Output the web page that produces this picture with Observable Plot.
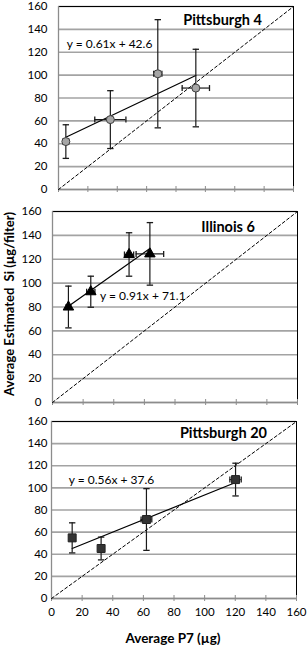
<!DOCTYPE html>
<html><head><meta charset="utf-8">
<script src="https://cdn.jsdelivr.net/npm/d3@7"></script>
<script src="https://cdn.jsdelivr.net/npm/@observablehq/plot@0.6"></script>
<style>
body{margin:0;background:#fff;}
#wrap{position:relative;width:307px;height:645px;font-family:Lato,"Open Sans",sans-serif;color:#000;overflow:hidden}
.panel{position:absolute;left:0;}
#ylab{position:absolute;left:9px;top:304px;transform:translate(-50%,-50%) rotate(-90deg);white-space:pre;font-weight:bold;font-size:13px;}
#xlab{position:absolute;left:173px;top:638px;transform:translate(-50%,-50%);font-weight:bold;font-size:13.5px;white-space:nowrap;}
</style></head>
<body><div id="wrap"><div id="ylab">Average Estimated  Si (µg/filter)</div><div id="xlab">Average P7 (µg)</div></div>
<script>
// ---- data ----
const xTicks = [0, 20, 40, 60, 80, 100, 120, 140, 160];
const yTicks = [0, 20, 40, 60, 80, 100, 120, 140, 160];
const axisDomain = [0, 160];

const titles = ["Pittsburgh 4", "Illinois 6", "Pittsburgh 20"];
const equations = ["y = 0.61x + 42.6", "y = 0.91x + 71.1", "y = 0.56x + 37.6"];
const slopes = [0.61, 0.91, 0.56];
const intercepts = [42.6, 71.1, 37.6];

const p4X = [5.0, 35.3, 67.6, 93.5];
const p4Y = [41.9, 61.1, 101.2, 88.7];
const p4Ex = [2.0, 10.6, 2.8, 9.3];
const p4Ey = [14.7, 25.3, 47.3, 33.9];

const il6X = [10.4, 25.0, 50.0, 63.6];
const il6Y = [80.0, 92.8, 124.0, 124.5];
const il6Ex = [1.5, 2.7, 3.0, 9.0];
const il6Ey = [17.5, 13.0, 18.2, 26.2];

const p20X = [13.5, 32.4, 62.0, 120.2];
const p20Y = [54.8, 45.2, 71.4, 107.5];
const p20Ex = [1.0, 1.0, 3.5, 3.7];
const p20Ey = [13.6, 10.3, 27.9, 14.8];

// ---- helpers ----
const hcap = {draw(ctx, size) { const r = Math.sqrt(size / Math.PI); ctx.moveTo(-r, 0); ctx.lineTo(r, 0); }};
const vcap = {draw(ctx, size) { const r = Math.sqrt(size / Math.PI); ctx.moveTo(0, -r); ctx.lineTo(0, r); }};

function panel(cfg) {
  const pts = cfg.xs.map((x, i) => ({x, y: cfg.ys[i], ex: cfg.exs[i], ey: cfg.eys[i]}));
  const errStroke = "#1a1a1a";
  const plot = Plot.plot({
    width: 307,
    height: cfg.height,
    marginTop: cfg.mt, marginBottom: cfg.mb, marginLeft: cfg.ml, marginRight: cfg.mr,
    style: {fontFamily: "Lato, 'Open Sans', sans-serif", fontSize: "12px", background: "transparent", color: "#000", overflow: "visible"},
    x: {domain: axisDomain},
    y: {domain: axisDomain},
    marks: [
      Plot.ruleY(yTicks, {stroke: "#a3a3a3", strokeWidth: 1.6}),
      Plot.frame({stroke: "#000", strokeWidth: 1}),
      Plot.ruleX([0], {stroke: "#8c8c8c", strokeWidth: 1.3}),
      Plot.ruleY([0], {stroke: "#8c8c8c", strokeWidth: 1.3}),
      Plot.axisY({ticks: yTicks, tickSize: 0, tickPadding: cfg.ypad, label: null, fontSize: 11.5, fill: "#000"}),
      Plot.axisX({ticks: xTicks, tickSize: 6, dy: -3, tickPadding: 6, stroke: "#8c8c8c", fill: "#000", fontSize: 11.5, label: null,
        tickFormat: cfg.showX ? (d => String(d)) : (() => "")}),
      Plot.line(axisDomain, {x: d => d, y: d => d, stroke: "#000", strokeWidth: 1, strokeDasharray: "3,2.5"}),
      Plot.line(d3.extent(cfg.xs), {x: d => d, y: d => cfg.slope * d + cfg.intercept, stroke: "#000", strokeWidth: 1.2}),
      Plot.ruleX(pts, {x: "x", y1: d => d.y - d.ey, y2: d => d.y + d.ey, stroke: errStroke, strokeWidth: 1.2}),
      Plot.dot(pts, {x: "x", y: d => d.y + d.ey, symbol: hcap, r: 3.2, stroke: errStroke, strokeWidth: 1.3}),
      Plot.dot(pts, {x: "x", y: d => d.y - d.ey, symbol: hcap, r: 3.2, stroke: errStroke, strokeWidth: 1.3}),
      Plot.ruleY(pts, {y: "y", x1: d => d.x - d.ex, x2: d => d.x + d.ex, stroke: errStroke, strokeWidth: 1.2}),
      Plot.dot(pts, {x: d => d.x - d.ex, y: "y", symbol: vcap, r: 3, stroke: errStroke, strokeWidth: 1.3}),
      Plot.dot(pts, {x: d => d.x + d.ex, y: "y", symbol: vcap, r: 3, stroke: errStroke, strokeWidth: 1.3}),
      Plot.dot(pts, {x: "x", y: "y", symbol: cfg.symbol, r: cfg.r, fill: cfg.fill, stroke: cfg.stroke, strokeWidth: 1}),
      Plot.text([cfg.eq], {x: cfg.eqX, y: cfg.eqY, text: d => d, textAnchor: "start", fontSize: 12, fill: "#000"}),
      Plot.text([cfg.title], {x: cfg.tx, y: cfg.ty, text: d => d, textAnchor: "middle", fontSize: 14.5, fontWeight: "bold", fill: "#000"})
    ]
  });
  plot.classList.add("panel");
  plot.style.top = cfg.top + "px";
  document.getElementById("wrap").appendChild(plot);
}

panel({title: titles[0], eq: equations[0], slope: slopes[0], intercept: intercepts[0],
  xs: p4X, ys: p4Y, exs: p4Ex, eys: p4Ey, symbol: "circle", r: 4, fill: "#a6a6a6", stroke: "#404040",
  top: 0, height: 200, mt: 6, mb: 11, ml: 58, mr: 14, ypad: 11, showX: false,
  eqX: 5.7, eqY: 127, tx: 111.7, ty: 147.8});

panel({title: titles[1], eq: equations[1], slope: slopes[1], intercept: intercepts[1],
  xs: il6X, ys: il6Y, exs: il6Ex, eys: il6Ey, symbol: "triangle", r: 3.9, fill: "#000", stroke: "#000",
  top: 205, height: 207, mt: 6, mb: 10, ml: 52, mr: 10, ypad: 11, showX: false,
  eqX: 31.1, eqY: 89.1, tx: 114.7, ty: 146.8});

panel({title: titles[2], eq: equations[2], slope: slopes[2], intercept: intercepts[2],
  xs: p20X, ys: p20Y, exs: p20Ex, eys: p20Ey, symbol: "square", r: 4.5, fill: "#333", stroke: "#222",
  top: 415, height: 230, mt: 6, mb: 47, ml: 51, mr: 11, ypad: 4, showX: true,
  eqX: 11.3, eqY: 106.9, tx: 112.3, ty: 149});
</script>
</body></html>
